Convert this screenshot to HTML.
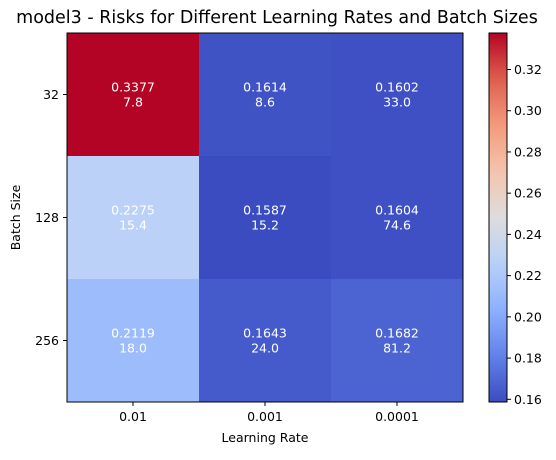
<!DOCTYPE html>
<html><head><meta charset="utf-8"><style>
body{margin:0;background:#fff;font-family:"Liberation Sans","DejaVu Sans",sans-serif;}
svg text{font-family:"DejaVu Sans","Liberation Sans",sans-serif;}
</style></head><body>
<svg id="chart" width="556" height="455" xmlns="http://www.w3.org/2000/svg"></svg>
<script>
const learningRates = ["0.01","0.001","0.0001"];
const batchSizes = ["32","128","256"];
const risks = [[0.3377,0.1614,0.1602],[0.2275,0.1587,0.1604],[0.2119,0.1643,0.1682]];
const times = [[7.8,8.6,33.0],[15.4,15.2,74.6],[18.0,24.0,81.2]];
const cbTicks = [0.16,0.18,0.20,0.22,0.24,0.26,0.28,0.30,0.32];

const NS="http://www.w3.org/2000/svg";
const svg=document.getElementById('chart');
function mk(tag,attrs,parent){const e=document.createElementNS(NS,tag);for(const k in attrs)e.setAttribute(k,attrs[k]);(parent||svg).appendChild(e);return e;}
const stops=[[59,76,192],[98,130,234],[141,176,254],[184,208,249],[221,221,221],[245,196,173],[244,154,123],[222,96,77],[180,4,38]];
function cw(t){t=Math.max(0,Math.min(1,t));const p=t*8,i=Math.min(7,Math.floor(p)),f=p-i;const a=stops[i],b=stops[i+1];return `rgb(${a.map((v,k)=>Math.round(v+(b[k]-v)*f)).join(',')})`;}
const all=risks.flat();const vmin=Math.min(...all),vmax=Math.max(...all);
const X0=67,X1=463,Y0=33,Y1=402;
const cwid=(X1-X0)/learningRates.length,chei=(Y1-Y0)/batchSizes.length;
const xc=i=>X0+cwid*(i+0.5), yc=j=>Y0+chei*(j+0.5);
const T=(x,y,s,opt)=>{const e=mk('text',Object.assign({x:x,y:y,'font-size':12.5,fill:'#000'},opt||{}));e.textContent=s;return e;};
batchSizes.forEach((b,j)=>learningRates.forEach((l,i)=>{
  const r=mk('rect',{x:X0+cwid*i,y:Y0+chei*j,width:cwid+0.5,height:chei+0.5,fill:cw((risks[j][i]-vmin)/(vmax-vmin))});
  
  
  const t1=T(xc(i),yc(j)-3,risks[j][i].toFixed(4),{fill:'#fff','text-anchor':'middle'});
  
  const t2=T(xc(i),yc(j)+12,times[j][i].toFixed(1),{fill:'#fff','text-anchor':'middle'});
  
}));
mk('rect',{x:X0,y:Y0,width:X1-X0,height:Y1-Y0,fill:'none',stroke:'#000','stroke-width':1});
learningRates.forEach((l,i)=>{mk('line',{x1:xc(i),x2:xc(i),y1:Y1,y2:Y1+4,stroke:'#000'});const t=T(xc(i),Y1+19,l,{'text-anchor':'middle'});});
batchSizes.forEach((b,j)=>{mk('line',{x1:X0-4,x2:X0,y1:yc(j),y2:yc(j),stroke:'#000'});const t=T(X0-8,yc(j)+4.5,b,{'text-anchor':'end'});});
const xt=T((X0+X1)/2,442,'Learning Rate',{'text-anchor':'middle'});
const yt=T(0,0,'Batch Size',{'text-anchor':'middle',transform:`translate(20,${(Y0+Y1)/2}) rotate(-90)`});
const tt=T(277,23,'model3 - Risks for Different Learning Rates and Batch Sizes',{'text-anchor':'middle','font-size':17.5});
// colorbar
const defs=mk('defs',{});const g=mk('linearGradient',{id:'cg',x1:0,y1:1,x2:0,y2:0},defs);
for(let k=0;k<=20;k++)mk('stop',{offset:k/20,'stop-color':cw(k/20)},g);
const CX=489,CW=18;
const cb=mk('rect',{x:CX,y:Y0,width:CW,height:Y1-Y0,fill:'url(#cg)',stroke:'#000','stroke-width':1});

const cy=v=>Y1-(v-vmin)/(vmax-vmin)*(Y1-Y0);
cbTicks.forEach(v=>{const y=cy(v);mk('line',{x1:CX+CW,x2:CX+CW+4,y1:y,y2:y,stroke:'#000'});const t=T(CX+CW+7,y+4.5,v.toFixed(2));});
</script>
</body></html>
